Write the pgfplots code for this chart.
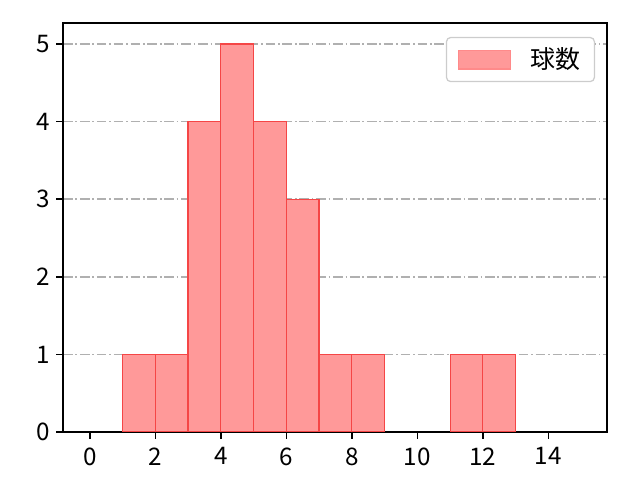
\documentclass[border=0pt]{standalone}
\usepackage{pgfplots}
\pgfplotsset{compat=1.18}
\usepackage{fontspec}
\setmainfont{Noto Sans CJK JP}
\definecolor{barfill}{RGB}{255,153,153}
\definecolor{baredge}{RGB}{245,70,70}
\definecolor{gridc}{RGB}{176,176,176}
\definecolor{legedge}{RGB}{204,204,204}

\begin{document}
\fontsize{18}{21}\selectfont
\begin{tikzpicture}
\begin{axis}[
  at={(0,0)}, anchor=south west,
  scale only axis,
  width=5.44in, height=4.09in,
  xmin=-0.82, xmax=15.79,
  ymin=0, ymax=5.27,
  xtick={0,2,...,14},
  ytick={0,1,...,5},
  axis line style={line width=1.1pt},
  tick align=outside,
  tick pos=left,
  major tick length=5pt,
  tick style={black, line width=1.1pt},
  ymajorgrids,
  grid style={gridc, line width=1.1pt, dash pattern=on 7pt off 2pt on 1.2pt off 2pt},
  /pgf/number format/assume math mode=true,
  ticklabel style={font=\fontsize{17.5}{20}\selectfont},
  yticklabel style={xshift=2pt},
  legend style={at={(0.978,0.966)}, anchor=north east, draw=legedge, rounded corners=3pt,
    line width=0.9pt, font=\fontsize{18}{21}\selectfont, inner xsep=8pt, inner ysep=5pt},
  legend cell align=left,
]
\addplot[ybar interval, fill=barfill, draw=baredge, line width=0.9pt,
  area legend,
  legend image code/.code={\draw[sharp corners, fill=barfill, draw=barfill!90!red] (0pt,-6.8pt) rectangle (38pt,6.8pt);}]
  coordinates {(1,1) (2,1) (3,4) (4,5) (5,4) (6,3) (7,1) (8,1) (9,0)};
\addlegendentry{\hspace{12pt}球数}
\addplot[ybar interval, fill=barfill, draw=baredge, line width=0.9pt, forget plot]
  coordinates {(11,1) (12,1) (13,0)};
\end{axis}
\path[use as bounding box] (-0.63in,-0.48in) rectangle (5.77in,4.32in);
\end{tikzpicture}
\end{document}
